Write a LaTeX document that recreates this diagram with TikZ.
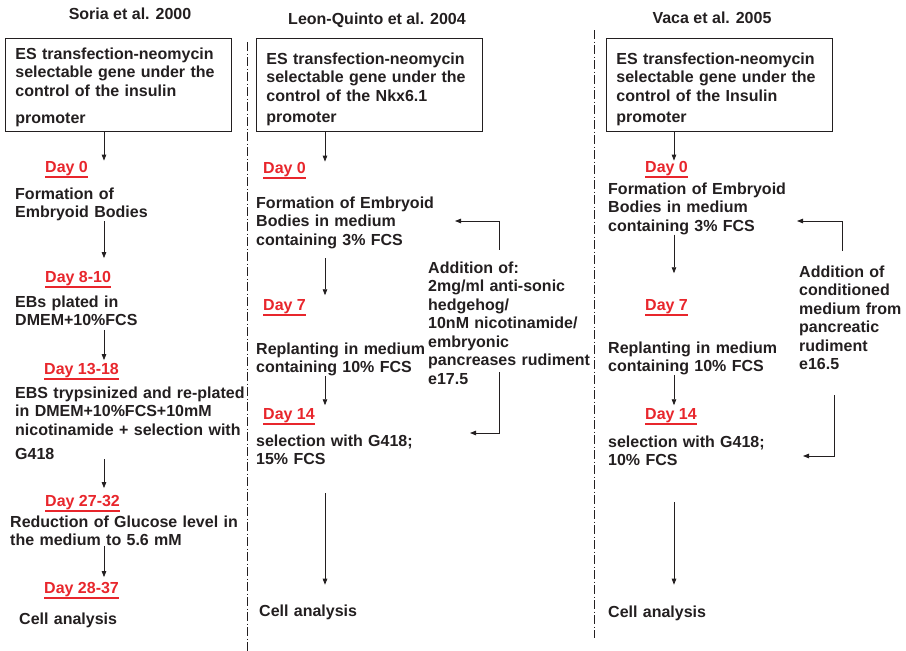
\documentclass[tikz,border=0pt]{standalone}
\usepackage{fontspec}
\setmainfont{Liberation Sans}
\usetikzlibrary{arrows.meta}
\definecolor{inkgray}{HTML}{231F20}
\definecolor{dayred}{HTML}{E8262C}
\newcommand{\figfont}{\fontsize{16pt}{18.5pt}\selectfont\bfseries}
\tikzset{
  every node/.style={font=\figfont, text=inkgray, inner sep=0pt},
  txt/.style={align=left, text width=250pt, anchor=base west},
  ttl/.style={anchor=base},
  stepbox/.style={draw=inkgray, line width=0.8pt, align=left, text width=206pt, inner xsep=10pt, inner ysep=0pt, anchor=base west},
  uline/.style={draw=dayred, line width=1.5pt},
  daylbl/.style={text=dayred, anchor=base west,
    append after command={([yshift=-5pt]\tikzlastnode.base west) edge[uline] ([yshift=-5pt]\tikzlastnode.base east)}},
  flow/.style={draw=inkgray, line width=0.8pt, -{Triangle[length=6pt,width=4.5pt]}},
  sepline/.style={draw=inkgray, line width=0.8pt, dash pattern=on 9pt off 2.5pt on 1pt off 2.5pt}
}
\begin{document}
\begin{tikzpicture}[x=1pt,y=-1pt]
\useasboundingbox (0,0) rectangle (906,651);

\node[ttl] (stitle) at (130,19) {Soria et al. 2000};
\node[ttl] (ltitle) at (377,24) {Leon-Quinto et al. 2004};
\node[ttl] (vtitle) at (712,23) {Vaca et al. 2005};

\draw[sepline] (247,42) -- (247,651);
\draw[sepline] (594,30) -- (594,638);

% Soria
\node[stepbox, text height=21pt, text depth=72pt] (sbox) at (5,59) {ES transfection-neomycin\\selectable gene under the\\control of the insulin\\[8.5pt]promoter};
\node[daylbl] (sd0) at (45,172) {Day 0};
\node[txt] (sform) at (15,199) {Formation of\\Embryoid Bodies};
\node[daylbl] (sd8) at (45,282) {Day 8-10};
\node[txt] (sebs) at (15,307) {EBs plated in\\DMEM+10\%FCS};
\node[daylbl] (sd13) at (44,374) {Day 13-18};
\node[txt] (stryp) at (15,398) {EBS trypsinized and re-plated\\in DMEM+10\%FCS+10mM\\nicotinamide + selection with\\[5.5pt]G418};
\node[daylbl] (sd27) at (45,506) {Day 27-32};
\node[txt] (sgluc) at (10,527) {Reduction of Glucose level in\\the medium to 5.6 mM};
\node[daylbl] (sd28) at (44,593) {Day 28-37};
\node[txt] (scell) at (19,624) {Cell analysis};

% Leon-Quinto
\node[stepbox, text height=26pt, text depth=67pt] (lbox) at (256,64) {ES transfection-neomycin\\selectable gene under the\\control of the Nkx6.1\\[2.5pt]promoter};
\node[daylbl] (ld0) at (263,173) {Day 0};
\node[txt] (lform) at (256,208) {Formation of Embryoid\\Bodies in medium\\containing 3\% FCS};
\node[daylbl] (ld7) at (263,310) {Day 7};
\node[txt] (lrep) at (256,354) {Replanting in medium\\containing 10\% FCS};
\node[daylbl] (ld14) at (263,419) {Day 14};
\node[txt] (lsel) at (256,446) {selection with G418;\\15\% FCS};
\node[txt] (lcell) at (259,616) {Cell analysis};
\node[txt] (ladd) at (428,273) {Addition of:\\2mg/ml anti-sonic\\hedgehog/\\10nM nicotinamide/\\embryonic\\pancreases rudiment\\e17.5};

% Vaca
\node[stepbox, text height=26pt, text depth=67pt] (vbox) at (606,64) {ES transfection-neomycin\\selectable gene under the\\control of the Insulin\\[2.5pt]promoter};
\node[daylbl] (vd0) at (645,172) {Day 0};
\node[txt] (vform) at (608,194) {Formation of Embryoid\\Bodies in medium\\containing 3\% FCS};
\node[daylbl] (vd7) at (645,310) {Day 7};
\node[txt] (vrep) at (608,353) {Replanting in medium\\containing 10\% FCS};
\node[daylbl] (vd14) at (645,419) {Day 14};
\node[txt] (vsel) at (608,447) {selection with G418;\\10\% FCS};
\node[txt] (vcell) at (608,617) {Cell analysis};
\node[txt] (vadd) at (799,277) {Addition of\\conditioned\\medium from\\pancreatic\\rudiment\\e16.5};

\coordinate (sx) at (104,0);
\coordinate (lx) at (325,0);
\coordinate (vx) at (674,0);
\coordinate (lsx) at (499,0);
\coordinate (vsx) at (842,0);
\coordinate (vsy) at (834,0);
\coordinate (ltipa) at (455,221);
\coordinate (ltipb) at (470,433);
\coordinate (vtipa) at (797,221);
\coordinate (vtipb) at (803,456);

\draw[flow] (sbox.south -| sx) -- (sd0.north -| sx);
\draw[flow, shorten >=12.5pt] (sform.south -| sx) -- (sd8.north -| sx);
\draw[flow, shorten <=4pt, shorten >=2.5pt] (sebs.south -| sx) -- (sd13.north -| sx);
\draw[flow, shorten >=6.5pt] (stryp.south -| sx) -- (sd27.north -| sx);
\draw[flow, shorten >=4.5pt] (sgluc.south -| sx) -- (sd28.north -| sx);

\draw[flow] (lbox.south -| lx) -- (ld0.north -| lx);
\draw[flow, shorten <=9.5pt, shorten >=3.5pt] (lform.south -| lx) -- (ld7.north -| lx);
\draw[flow, shorten >=2.5pt] (lrep.south -| lx) -- (ld14.north -| lx);
\draw[flow, shorten <=28.5pt, shorten >=19.5pt] (lsel.south -| lx) -- (lcell.north -| lx);
\draw[flow] ([yshift=11.5pt]ladd.north -| lsx) |- (ltipa);
\draw[flow] ([yshift=12pt]ladd.south -| lsx) |- (ltipb);

\draw[flow] (vbox.south -| vx) -- (vd0.north -| vx);
\draw[flow, shorten >=25.5pt] (vform.south -| vx) -- (vd7.north -| vx);
\draw[flow, shorten >=2.5pt] (vrep.south -| vx) -- (vd14.north -| vx);
\draw[flow, shorten <=36.5pt, shorten >=20.5pt] (vsel.south -| vx) -- (vcell.north -| vx);
\draw[flow] ([yshift=14pt]vadd.north -| vsx) |- (vtipa);
\draw[flow] ([yshift=-25.5pt]vadd.south -| vsy) |- (vtipb);
\end{tikzpicture}
\end{document}
